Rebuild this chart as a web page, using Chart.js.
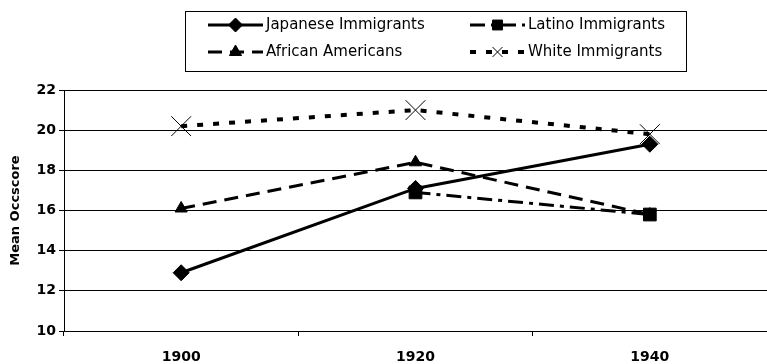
<!DOCTYPE html>
<html>
<head>
<meta charset="utf-8">
<script src="https://cdn.jsdelivr.net/npm/chart.js@4"></script>
<style>
  html, body { margin: 0; padding: 0; background: #fff; }
  #wrap { width: 767px; height: 364px; }
</style>
</head>
<body>
<div id="wrap"><canvas id="chart" width="767" height="364"></canvas></div>
<script>
'use strict';

// ── Data ─────────────────────────────────────────────────────
const YEARS    = ['1900', '1920', '1940'];
const JAPANESE = [12.9, 17.1, 19.3];
const LATINO   = [null, 16.9, 15.8];
const AFRICAN  = [16.1, 18.4, 15.8];
const WHITE    = [20.2, 21.0, 19.8];
const Y_TICKS  = { min: 10, max: 22, step: 2 };

const FONT = "'DejaVu Sans', sans-serif";

// Big markers would otherwise make Chart.js shrink the plot on the right;
// the reference plot runs to the edge of the picture.
Chart.registry.getController('line').prototype.getMaxOverflow = function () { return 0; };

const datasets = [
  { label: 'Japanese Immigrants', data: JAPANESE, borderDash: [],
    pointStyle: 'rectRot', pointRadius: 8, borderWidth: 3, pointBorderWidth: 1 },
  { label: 'Latino Immigrants', data: LATINO, borderDash: [15, 6, 4, 6],
    pointStyle: 'rect', pointRadius: 9, borderWidth: 3, pointBorderWidth: 1 },
  { label: 'African Americans', data: AFRICAN, borderDash: [14, 8],
    pointStyle: 'triangle', pointRadius: 7, borderWidth: 3, pointBorderWidth: 1 },
  { label: 'White Immigrants', data: WHITE, borderDash: [6, 10],
    pointStyle: 'crossRot', pointRadius: 14, borderWidth: 4, pointBorderWidth: 1 }
].map(d => Object.assign({
  borderColor: '#000', backgroundColor: '#000',
  pointBackgroundColor: '#000', pointBorderColor: '#000',
  tension: 0, spanGaps: false
}, d));

// Boxed two-column legend, drawn from the dataset styles
const boxLegend = {
  id: 'boxLegend',
  afterDraw(chart) {
    const ctx = chart.ctx;
    const cols = [{ x0: 208, x1: 263, tx: 266 }, { x0: 470, x1: 525, tx: 528 }];
    const rows = [25, 52];
    ctx.save();
    ctx.strokeStyle = '#000';
    ctx.lineWidth = 1;
    ctx.strokeRect(185.5, 11.5, 501, 60);
    chart.data.datasets.forEach((ds, i) => {
      const c = cols[i % 2], y = rows[Math.floor(i / 2)];
      ctx.strokeStyle = '#000';
      ctx.fillStyle = '#000';
      ctx.lineWidth = ds.borderWidth;
      ctx.setLineDash(ds.borderDash);
      ctx.beginPath();
      ctx.moveTo(c.x0, y);
      ctx.lineTo(c.x1, y);
      ctx.stroke();
      ctx.setLineDash([]);
      ctx.lineWidth = ds.pointBorderWidth;
      Chart.helpers.drawPoint(ctx, {
        pointStyle: ds.pointStyle,
        radius: Math.min(ds.pointRadius, 7),
        rotation: 0,
        borderWidth: ds.pointBorderWidth
      }, (c.x0 + c.x1) / 2, y);
      ctx.font = '15px ' + FONT;
      ctx.textBaseline = 'middle';
      ctx.textAlign = 'left';
      ctx.fillText(ds.label, c.tx, y);
    });
    ctx.restore();
  }
};

new Chart(document.getElementById('chart').getContext('2d'), {
  type: 'line',
  data: { labels: YEARS, datasets },
  plugins: [boxLegend],
  options: {
    responsive: false,
    animation: false,
    layout: { padding: { top: 90, right: 0, left: 0, bottom: 0 } },
    plugins: { legend: { display: false }, tooltip: { enabled: false } },
    scales: {
      x: {
        type: 'category',
        offset: true,
        grid: { offset: true, drawOnChartArea: false, tickLength: 5, color: '#000' },
        border: { color: '#000' },
        ticks: { color: '#000', font: { family: FONT, size: 14, weight: 'bold' }, padding: 13 },
        afterFit: s => { s.height = 33; s.paddingLeft = 0; s.paddingRight = 0; }
      },
      y: {
        min: Y_TICKS.min,
        max: Y_TICKS.max,
        ticks: { stepSize: Y_TICKS.step, color: '#000', padding: 3,
                 font: { family: FONT, size: 14, weight: 'bold' } },
        grid: { color: '#000', lineWidth: 1, tickLength: 5 },
        border: { color: '#000' },
        title: { display: true, text: 'Mean Occscore', color: '#000', padding: { top: 8, bottom: 0 },
                 font: { family: FONT, size: 13, weight: 'bold' } },
        afterFit: s => { s.width = 64; }
      }
    }
  }
});
</script>
</body>
</html>
